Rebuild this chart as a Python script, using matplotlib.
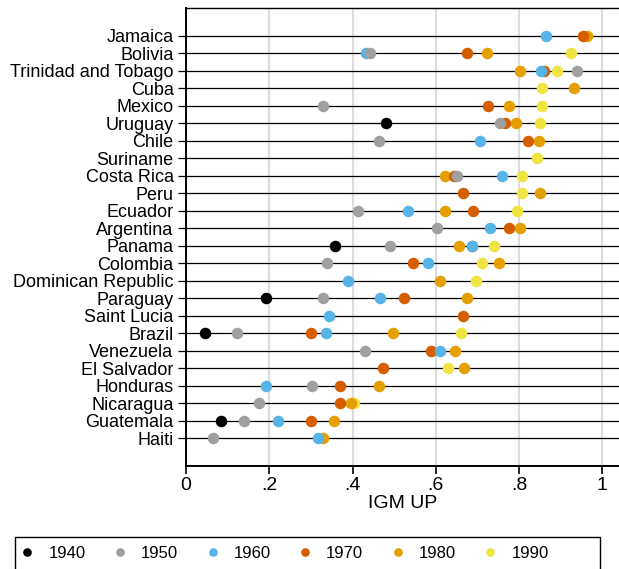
import matplotlib
matplotlib.use("Agg")
import matplotlib.pyplot as plt
from matplotlib.lines import Line2D
from matplotlib.patches import Rectangle
import numpy as np

plt.rcParams['font.family'] = ['Liberation Sans', 'DejaVu Sans']

countries = ["Jamaica", "Bolivia", "Trinidad and Tobago", "Cuba", "Mexico", "Uruguay",
             "Chile", "Suriname", "Costa Rica", "Peru", "Ecuador", "Argentina", "Panama",
             "Colombia", "Dominican Republic", "Paraguay", "Saint Lucia", "Brazil",
             "Venezuela", "El Salvador", "Honduras", "Nicaragua", "Guatemala", "Haiti"]

nan = np.nan
igm_1940 = [nan, nan, nan, nan, nan, 0.481, nan, nan, nan, nan, nan, nan, 0.358,
            nan, nan, 0.193, nan, 0.046, nan, nan, nan, nan, 0.083, nan]
igm_1950 = [nan, 0.441, 0.938, nan, 0.330, 0.753, 0.463, nan, 0.651, nan, 0.412, 0.602, 0.490,
            0.339, nan, 0.328, nan, 0.123, 0.430, nan, 0.302, 0.176, 0.140, 0.066]
igm_1960 = [0.865, 0.432, 0.852, nan, nan, nan, 0.705, nan, 0.759, nan, 0.533, 0.730, 0.686,
            0.581, 0.388, 0.467, 0.344, 0.337, 0.609, nan, 0.192, nan, 0.220, 0.317]
igm_1970 = [0.953, 0.675, 0.861, nan, 0.726, 0.765, 0.822, nan, 0.643, 0.665, 0.689, 0.776, 0.688,
            0.546, nan, 0.523, 0.665, 0.301, 0.589, 0.474, 0.370, 0.370, 0.300, nan]
igm_1980 = [0.964, 0.724, 0.803, 0.932, 0.775, 0.793, 0.849, nan, 0.621, 0.850, 0.621, 0.802, 0.656,
            0.751, 0.609, 0.674, nan, 0.496, 0.646, 0.668, 0.463, 0.396, 0.355, 0.328]
igm_1990 = [nan, 0.924, 0.892, 0.856, 0.854, 0.851, nan, 0.844, 0.808, 0.808, 0.795, nan, 0.739,
            0.710, 0.697, nan, nan, 0.661, nan, 0.630, nan, 0.403, nan, nan]

decades = ["1940", "1950", "1960", "1970", "1980", "1990"]
series = [igm_1940, igm_1950, igm_1960, igm_1970, igm_1980, igm_1990]
colors = ["#000000", "#a0a0a0", "#56b4e9", "#d55e00", "#e69f00", "#f0e442"]

W, H = 619, 569
fig = plt.figure(figsize=(W/100, H/100), dpi=100)
ax = fig.add_axes([186/W, 103/H, (W-186)/W, (466-8)/H])

n = len(countries)
ypos = np.arange(n)[::-1] + 1

for y in ypos:
    ax.axhline(y, color="black", lw=0.9, zorder=2)

for i, (lab, vals, c) in enumerate(zip(decades, series, colors)):
    ax.plot(vals, ypos, 'o', color=c, ms=8.3, mew=0, zorder=10 - i, linestyle='none')

ax.set_xlim(0, 1.04)
ax.set_ylim(-0.6, n + 1.6)
ax.set_xticks([0, 0.2, 0.4, 0.6, 0.8, 1.0])
ax.set_xticklabels(["0", ".2", ".4", ".6", ".8", "1"], fontsize=14)
ax.set_yticks(ypos)
ax.set_yticklabels(countries, fontsize=13)
ax.tick_params(axis='x', length=6, width=1.2, pad=2)
ax.tick_params(axis='y', length=6, width=0.9, pad=3)
ax.xaxis.grid(True, color="#dcdcdc", lw=1.5, zorder=0)
ax.set_axisbelow(True)
ax.set_xlabel("IGM UP", fontsize=14, labelpad=1)
for s in ["left", "bottom"]:
    ax.spines[s].set_linewidth(1.4)
ax.spines["top"].set_linewidth(1.0)
ax.spines["right"].set_visible(False)

# legend frame
fig.patches.append(Rectangle((15/W, -10/H), (600-15)/W, (H - 537 + 10)/H,
                             transform=fig.transFigure, fill=False, edgecolor="black",
                             lw=1.0, zorder=0))
handles = [Line2D([], [], marker='o', color=c, linestyle='none', ms=6.2, mew=0) for c in colors]
leg = fig.legend(handles, decades, loc='center left', bbox_to_anchor=(19/W, 1 - 553/H),
                 ncol=6, frameon=False, fontsize=12, handletextpad=0.76, columnspacing=1.57,
                 borderaxespad=0, borderpad=0, handlelength=1.0)

fig.savefig("out.png", dpi=100)
